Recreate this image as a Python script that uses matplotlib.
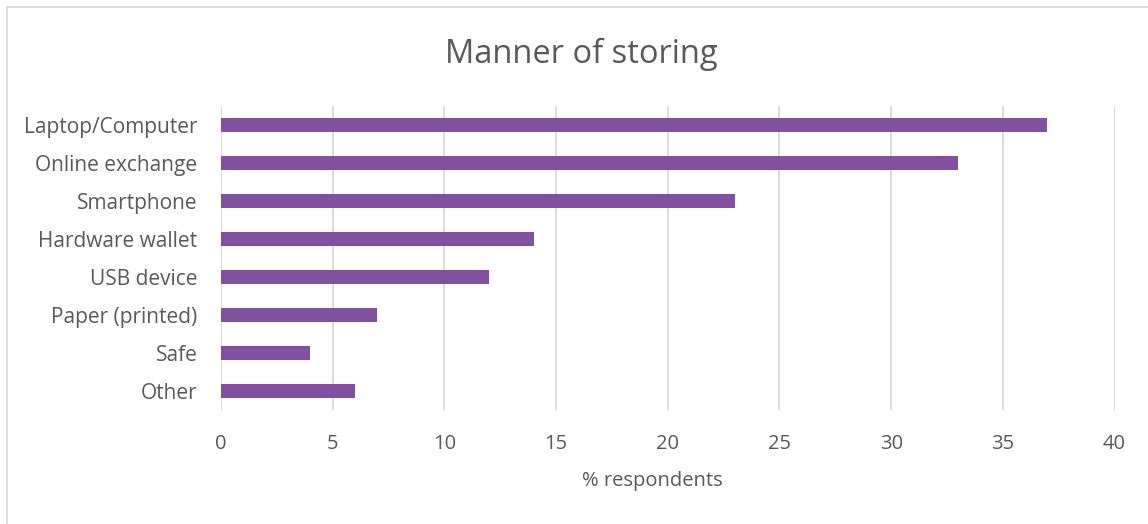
import matplotlib
matplotlib.use("Agg")
import matplotlib.pyplot as plt
from matplotlib.lines import Line2D

categories = ["Laptop/Computer", "Online exchange", "Smartphone", "Hardware wallet",
              "USB device", "Paper (printed)", "Safe", "Other"]
values = [37, 33, 23, 14, 12, 7, 4, 6]
xticks = [0, 5, 10, 15, 20, 25, 30, 35, 40]

W, H = 1148, 524
plt.rcParams['font.family'] = ['Open Sans', 'DejaVu Sans']
text_color = '#595959'
grid_color = '#d9d9d9'
bar_color = '#8150A0'

fig = plt.figure(figsize=(W / 100, H / 100), dpi=100)
left, right, top, bottom = 221 / W, 1114.5 / W, 106 / H, 410 / H
ax = fig.add_axes([left, 1 - bottom, right - left, bottom - top])

ypos = list(range(len(categories)))
ax.barh(ypos, values, height=0.36, color=bar_color, zorder=3)
ax.set_ylim(len(categories) - 0.5, -0.5)
ax.set_xlim(0, 40)
ax.set_yticks(ypos)
ax.set_yticklabels(categories)
ax.set_xticks(xticks)
ax.set_xticklabels([str(t) for t in xticks])
ax.tick_params(axis='both', length=0, labelsize=14.5, colors=text_color)
ax.tick_params(axis='y', pad=17, labelsize=15)
ax.tick_params(axis='x', pad=17)
ax.grid(axis='x', color=grid_color, linewidth=1.3, zorder=0)
ax.grid(axis='y', visible=False)
for s in ax.spines.values():
    s.set_visible(False)

ax.set_xlabel('% respondents', fontsize=14.5, color=text_color)
ax.xaxis.set_label_coords((652.5 - 221) / (1114.5 - 221), (410 - 481) / (410 - 106))
ax.xaxis.label.set_va('center')

fig.text(581 / W, 1 - 54 / H, 'Manner of storing', fontsize=23.5, color=text_color,
         ha='center', va='center')

fig.add_artist(Line2D([6.5 / W, 6.5 / W], [0, 1 - 7 / H], transform=fig.transFigure,
                      color=grid_color, linewidth=1.2))
fig.add_artist(Line2D([6.5 / W, 1], [1 - 7 / H, 1 - 7 / H], transform=fig.transFigure,
                      color=grid_color, linewidth=1.2))

fig.savefig('out.png', dpi=100, facecolor='white')
